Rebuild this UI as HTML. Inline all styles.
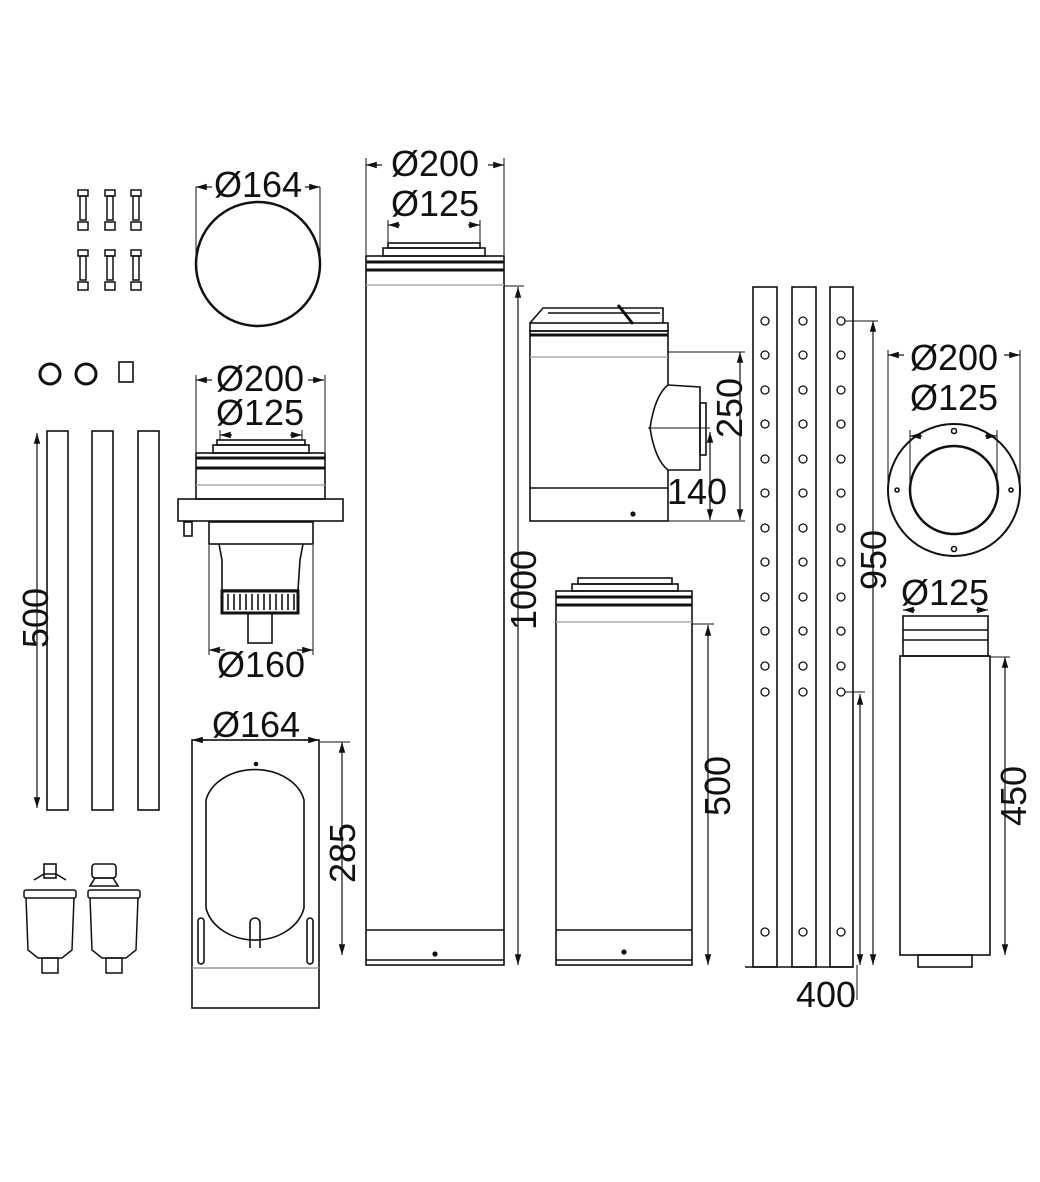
<!DOCTYPE html>
<html><head><meta charset="utf-8"><style>
html,body{margin:0;padding:0;background:#fff}
svg{display:block}
text{font-family:"Liberation Sans",sans-serif;font-size:36px;fill:#111}
</style></head><body>
<svg width="1040" height="1182" viewBox="0 0 1040 1182" xmlns="http://www.w3.org/2000/svg">
<defs>
<marker id="a" viewBox="0 0 10 10" refX="10" refY="5" markerWidth="9" markerHeight="9" orient="auto-start-reverse"><path d="M0,2 L10,5 L0,8 z" fill="#111"/></marker>
<g id="bolt"><rect x="-5" y="0" width="10" height="6" fill="none" stroke="#111" stroke-width="1.5"/><rect x="-3" y="6" width="6" height="24" fill="none" stroke="#111" stroke-width="1.5"/><rect x="-5" y="32" width="10" height="8" fill="none" stroke="#111" stroke-width="1.5"/></g>
<g id="filter" fill="none" stroke="#111" stroke-width="1.5"><rect x="-26" y="0" width="52" height="8" rx="2"/><path d="M-24 8 L-22 60 L-12 68 L12 68 L22 60 L24 8"/><rect x="-8" y="68" width="16" height="15"/></g>
</defs>
<g fill="none" stroke="#111" stroke-width="1.6">
<!-- bolts -->
<use href="#bolt" x="83" y="190"/><use href="#bolt" x="110" y="190"/><use href="#bolt" x="136" y="190"/>
<use href="#bolt" x="83" y="250"/><use href="#bolt" x="110" y="250"/><use href="#bolt" x="136" y="250"/>
<!-- clamps -->
<circle cx="50" cy="374" r="10" stroke-width="3"/><circle cx="86" cy="374" r="10" stroke-width="3"/>
<rect x="119" y="362" width="14" height="20"/>
<!-- rods -->
<rect x="47" y="431" width="21" height="379"/><rect x="92" y="431" width="21" height="379"/><rect x="138" y="431" width="21" height="379"/>
<line x1="37" y1="433" x2="37" y2="808" stroke-width="1.2" marker-start="url(#a)" marker-end="url(#a)"/>
<!-- filters -->
<rect x="44" y="864" width="12" height="14"/>
<path d="M34 880 L44 874 L56 874 L66 880"/>
<use href="#filter" x="50" y="890"/>
<rect x="92" y="864" width="24" height="14" rx="3"/><path d="M95 878 L113 878 L118 886 L90 886z"/>
<use href="#filter" x="114" y="890"/>
<!-- disk 164 -->
<circle cx="258" cy="264" r="62" stroke-width="2.5"/>
<line x1="196" y1="187" x2="196" y2="262" stroke-width="1"/><line x1="320" y1="187" x2="320" y2="262" stroke-width="1"/>
<line x1="196" y1="187" x2="212" y2="187" marker-start="url(#a)" stroke-width="1.2"/><line x1="305" y1="187" x2="320" y2="187" marker-end="url(#a)" stroke-width="1.2"/>
<!-- adapter -->
<line x1="196" y1="380" x2="212" y2="380" marker-start="url(#a)" stroke-width="1.2"/><line x1="308" y1="380" x2="324" y2="380" marker-end="url(#a)" stroke-width="1.2"/>
<line x1="196" y1="375" x2="196" y2="452" stroke-width="1"/><line x1="325" y1="375" x2="325" y2="452" stroke-width="1"/>
<line x1="220" y1="435" x2="232" y2="435" marker-start="url(#a)" stroke-width="1.2"/><line x1="290" y1="435" x2="302" y2="435" marker-end="url(#a)" stroke-width="1.2"/>
<line x1="220" y1="430" x2="220" y2="440" stroke-width="1"/><line x1="302" y1="430" x2="302" y2="440" stroke-width="1"/>
<rect x="217" y="440" width="88" height="5"/><rect x="213" y="445" width="96" height="8"/>
<rect x="196" y="453" width="129" height="46"/>
<line x1="196" y1="458" x2="325" y2="458" stroke-width="3"/><line x1="196" y1="468" x2="325" y2="468" stroke-width="3"/>
<line x1="196" y1="485" x2="325" y2="485" stroke="#aaa"/>
<rect x="178" y="499" width="165" height="22"/>
<rect x="184" y="522" width="8" height="14"/>
<rect x="209" y="522" width="104" height="22"/>
<path d="M219 544 L222 560 L222 590 L298 590 L300 560 L303 544"/>
<rect x="222" y="591" width="76" height="22" stroke-width="3"/>
<line x1="228" y1="594" x2="228" y2="610"/><line x1="234" y1="594" x2="234" y2="610"/><line x1="240" y1="594" x2="240" y2="610"/><line x1="246" y1="594" x2="246" y2="610"/><line x1="252" y1="594" x2="252" y2="610"/><line x1="258" y1="594" x2="258" y2="610"/><line x1="264" y1="594" x2="264" y2="610"/><line x1="270" y1="594" x2="270" y2="610"/><line x1="276" y1="594" x2="276" y2="610"/><line x1="282" y1="594" x2="282" y2="610"/><line x1="288" y1="594" x2="288" y2="610"/><line x1="294" y1="594" x2="294" y2="610"/>
<rect x="248" y="613" width="24" height="30"/>
<line x1="209" y1="545" x2="209" y2="655" stroke-width="1"/><line x1="313" y1="545" x2="313" y2="655" stroke-width="1"/>
<line x1="209" y1="650" x2="225" y2="650" marker-start="url(#a)" stroke-width="1.2"/><line x1="297" y1="650" x2="313" y2="650" marker-end="url(#a)" stroke-width="1.2"/>
<!-- box 164 -->
<line x1="192" y1="740" x2="208" y2="740" marker-start="url(#a)" stroke-width="1.2"/><line x1="303" y1="740" x2="319" y2="740" marker-end="url(#a)" stroke-width="1.2"/>
<rect x="192" y="740" width="127" height="268"/>
<line x1="192" y1="968" x2="319" y2="968" stroke="#999"/>
<circle cx="256" cy="764" r="1.5" fill="#111"/>
<path d="M206 800 A50 38 0 0 1 304 800 L304 908 A50 40 0 0 1 206 908 Z"/>
<path d="M250 948 L250 923 A5 5 0 0 1 260 923 L260 948"/>
<rect x="198" y="918" width="6" height="46" rx="3"/><rect x="307" y="918" width="6" height="46" rx="3"/>
<line x1="342" y1="742" x2="342" y2="955" marker-start="url(#a)" marker-end="url(#a)" stroke-width="1.2"/>
<line x1="320" y1="742" x2="350" y2="742" stroke-width="1"/>
<!-- long pipe -->
<line x1="366" y1="165" x2="382" y2="165" marker-start="url(#a)" stroke-width="1.2"/><line x1="488" y1="165" x2="504" y2="165" marker-end="url(#a)" stroke-width="1.2"/>
<line x1="366" y1="158" x2="366" y2="255" stroke-width="1"/><line x1="504" y1="158" x2="504" y2="255" stroke-width="1"/>
<line x1="388" y1="225" x2="400" y2="225" marker-start="url(#a)" stroke-width="1.2"/><line x1="468" y1="225" x2="480" y2="225" marker-end="url(#a)" stroke-width="1.2"/>
<line x1="388" y1="220" x2="388" y2="245" stroke-width="1"/><line x1="480" y1="220" x2="480" y2="245" stroke-width="1"/>
<rect x="388" y="243" width="92" height="5"/><rect x="383" y="248" width="102" height="8"/>
<rect x="366" y="256" width="138" height="709"/>
<line x1="366" y1="262" x2="504" y2="262" stroke-width="3"/><line x1="366" y1="270" x2="504" y2="270" stroke-width="3"/>
<line x1="366" y1="285" x2="504" y2="285" stroke="#aaa"/>
<line x1="366" y1="930" x2="504" y2="930"/><line x1="366" y1="960" x2="504" y2="960"/>
<circle cx="435" cy="954" r="1.8" fill="#111"/>
<line x1="518" y1="287" x2="518" y2="965" marker-start="url(#a)" marker-end="url(#a)" stroke-width="1.2"/>
<line x1="504" y1="286" x2="524" y2="286" stroke-width="1"/>
<!-- tee -->
<path d="M530 323 L543 308 L663 308 L663 323"/><line x1="548" y1="313" x2="660" y2="313"/>
<line x1="618" y1="305" x2="633" y2="324" stroke-width="3"/>
<rect x="530" y="323" width="138" height="8"/>
<line x1="530" y1="335" x2="668" y2="335" stroke-width="3"/>
<rect x="530" y="331" width="138" height="190"/>
<line x1="530" y1="357" x2="668" y2="357" stroke="#aaa"/>
<line x1="530" y1="488" x2="668" y2="488"/>
<circle cx="633" cy="514" r="1.8" fill="#111"/>
<path d="M668 385 L700 387 L700 470 L668 470 Q655 460 650 428 Q655 395 668 385 Z" fill="#fff"/>
<rect x="700" y="403" width="6" height="52"/>
<line x1="648" y1="428" x2="710" y2="428" stroke-width="1"/>
<line x1="740" y1="352" x2="740" y2="520" marker-start="url(#a)" marker-end="url(#a)" stroke-width="1.2"/>
<line x1="668" y1="352" x2="745" y2="352" stroke-width="1"/><line x1="668" y1="521" x2="745" y2="521" stroke-width="1"/>
<line x1="710" y1="432" x2="710" y2="520" marker-start="url(#a)" marker-end="url(#a)" stroke-width="1.2"/>
<!-- mid pipe -->
<rect x="578" y="578" width="94" height="6"/><rect x="572" y="584" width="106" height="7"/>
<rect x="556" y="591" width="136" height="374"/>
<line x1="556" y1="597" x2="692" y2="597" stroke-width="3"/><line x1="556" y1="605" x2="692" y2="605" stroke-width="3"/>
<line x1="556" y1="622" x2="692" y2="622" stroke="#aaa"/>
<line x1="556" y1="930" x2="692" y2="930"/><line x1="556" y1="960" x2="692" y2="960"/>
<circle cx="624" cy="952" r="1.8" fill="#111"/>
<line x1="708" y1="625" x2="708" y2="965" marker-start="url(#a)" marker-end="url(#a)" stroke-width="1.2"/>
<line x1="692" y1="624" x2="714" y2="624" stroke-width="1"/>
<!-- rails -->
<rect x="753" y="287" width="24" height="680"/><rect x="792" y="287" width="24" height="680"/><rect x="830" y="287" width="23" height="680"/>
<line x1="745" y1="967" x2="853" y2="967"/>
<g stroke-width="1.3">
<circle cx="765" cy="321" r="4"/><circle cx="765" cy="355" r="4"/><circle cx="765" cy="390" r="4"/><circle cx="765" cy="424" r="4"/><circle cx="765" cy="459" r="4"/><circle cx="765" cy="493" r="4"/><circle cx="765" cy="528" r="4"/><circle cx="765" cy="562" r="4"/><circle cx="765" cy="597" r="4"/><circle cx="765" cy="631" r="4"/><circle cx="765" cy="666" r="4"/><circle cx="765" cy="692" r="4"/><circle cx="765" cy="932" r="4"/>
<circle cx="803" cy="321" r="4"/><circle cx="803" cy="355" r="4"/><circle cx="803" cy="390" r="4"/><circle cx="803" cy="424" r="4"/><circle cx="803" cy="459" r="4"/><circle cx="803" cy="493" r="4"/><circle cx="803" cy="528" r="4"/><circle cx="803" cy="562" r="4"/><circle cx="803" cy="597" r="4"/><circle cx="803" cy="631" r="4"/><circle cx="803" cy="666" r="4"/><circle cx="803" cy="692" r="4"/><circle cx="803" cy="932" r="4"/>
<circle cx="841" cy="321" r="4"/><circle cx="841" cy="355" r="4"/><circle cx="841" cy="390" r="4"/><circle cx="841" cy="424" r="4"/><circle cx="841" cy="459" r="4"/><circle cx="841" cy="493" r="4"/><circle cx="841" cy="528" r="4"/><circle cx="841" cy="562" r="4"/><circle cx="841" cy="597" r="4"/><circle cx="841" cy="631" r="4"/><circle cx="841" cy="666" r="4"/><circle cx="841" cy="692" r="4"/><circle cx="841" cy="932" r="4"/>
</g>
<line x1="845" y1="321" x2="878" y2="321" stroke-width="1"/><line x1="845" y1="692" x2="865" y2="692" stroke-width="1"/>
<line x1="873" y1="321" x2="873" y2="965" marker-start="url(#a)" marker-end="url(#a)" stroke-width="1.2"/>
<line x1="860" y1="694" x2="860" y2="965" marker-start="url(#a)" marker-end="url(#a)" stroke-width="1.2"/>
<line x1="857" y1="965" x2="857" y2="1000" stroke-width="1"/>
<!-- flange ring -->
<line x1="888" y1="355" x2="904" y2="355" marker-start="url(#a)" stroke-width="1.2"/><line x1="1004" y1="355" x2="1020" y2="355" marker-end="url(#a)" stroke-width="1.2"/>
<line x1="888" y1="350" x2="888" y2="490" stroke-width="1"/><line x1="1020" y1="350" x2="1020" y2="490" stroke-width="1"/>
<line x1="910" y1="436" x2="922" y2="436" marker-start="url(#a)" stroke-width="1.2"/><line x1="985" y1="436" x2="997" y2="436" marker-end="url(#a)" stroke-width="1.2"/>
<line x1="910" y1="430" x2="910" y2="490" stroke-width="1"/><line x1="997" y1="430" x2="997" y2="490" stroke-width="1"/>
<circle cx="954" cy="490" r="66" stroke-width="2"/><circle cx="954" cy="490" r="44" stroke-width="2.5"/>
<circle cx="954" cy="431" r="2.5"/><circle cx="954" cy="549" r="2.5"/><circle cx="897" cy="490" r="2"/><circle cx="1011" cy="490" r="2"/>
<!-- short pipe -->
<line x1="903" y1="610" x2="915" y2="610" marker-start="url(#a)" stroke-width="1.2"/><line x1="976" y1="610" x2="988" y2="610" marker-end="url(#a)" stroke-width="1.2"/>
<rect x="903" y="616" width="85" height="40"/>
<line x1="903" y1="630" x2="988" y2="630"/><line x1="903" y1="640" x2="988" y2="640"/>
<rect x="900" y="656" width="90" height="299"/>
<rect x="918" y="955" width="54" height="12"/>
<line x1="990" y1="657" x2="1010" y2="657" stroke-width="1"/>
<line x1="1005" y1="657" x2="1005" y2="955" marker-start="url(#a)" marker-end="url(#a)" stroke-width="1.2"/>
</g>
<text x="258" y="197" text-anchor="middle">Ø164</text>
<text x="260" y="391" text-anchor="middle">Ø200</text>
<text x="260" y="425" text-anchor="middle">Ø125</text>
<text x="261" y="677" text-anchor="middle">Ø160</text>
<text x="256" y="737" text-anchor="middle">Ø164</text>
<text x="435" y="176" text-anchor="middle">Ø200</text>
<text x="435" y="216" text-anchor="middle">Ø125</text>
<text x="954" y="370" text-anchor="middle">Ø200</text>
<text x="954" y="410" text-anchor="middle">Ø125</text>
<text x="945" y="605" text-anchor="middle">Ø125</text>
<text x="697" y="504" text-anchor="middle">140</text>
<text x="826" y="1007" text-anchor="middle">400</text>
<text transform="translate(48,618) rotate(-90)" text-anchor="middle">500</text>
<text transform="translate(355,853) rotate(-90)" text-anchor="middle">285</text>
<text transform="translate(536,590) rotate(-90)" text-anchor="middle">1000</text>
<text transform="translate(742,408) rotate(-90)" text-anchor="middle">250</text>
<text transform="translate(730,786) rotate(-90)" text-anchor="middle">500</text>
<text transform="translate(886,560) rotate(-90)" text-anchor="middle">950</text>
<text transform="translate(1026,796) rotate(-90)" text-anchor="middle">450</text>
</svg>
</body></html>
